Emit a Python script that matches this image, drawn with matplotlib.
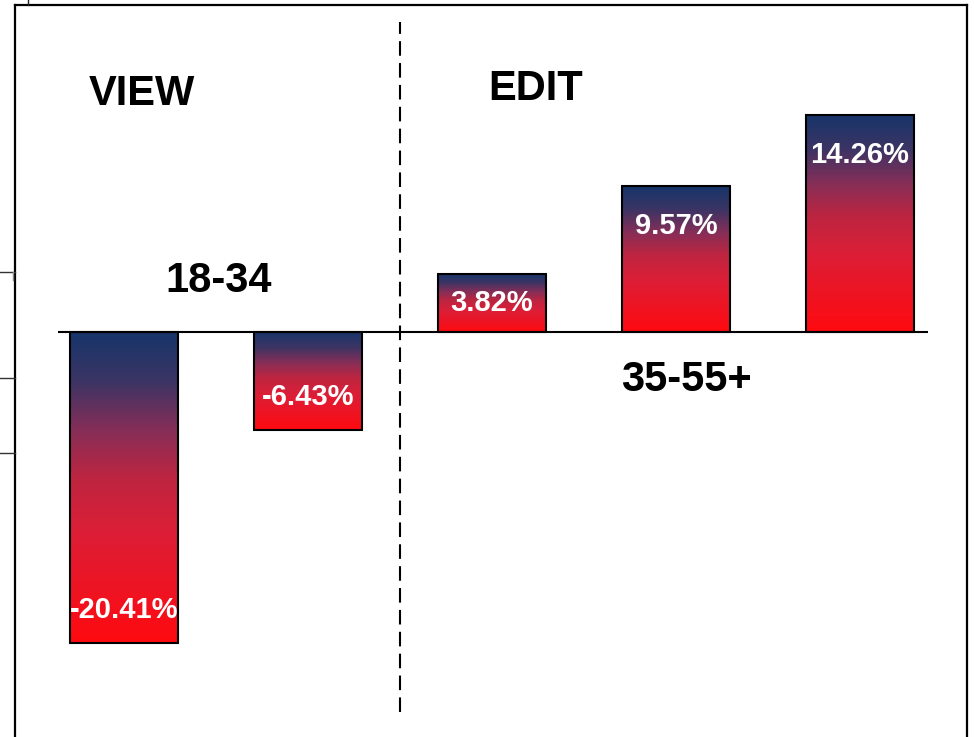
import numpy as np
import matplotlib as mpl
mpl.use('Agg')
from matplotlib import pyplot as plt
from matplotlib.patches import Rectangle
from matplotlib.lines import Line2D
from matplotlib.colors import LinearSegmentedColormap

plt.rcParams['font.family'] = ['Liberation Sans', 'DejaVu Sans']

# data
values = [-20.41, -6.43, 3.82, 9.57, 14.26]
value_labels = ['-20.41%', '-6.43%', '3.82%', '9.57%', '14.26%']
group_labels = ['18-34', '35-55+']
section_labels = ['VIEW', 'EDIT']

# navy -> red gradient used on every bar
grad_cmap = LinearSegmentedColormap.from_list('navy_red', [
    (0.0, '#16356a'),
    (0.16, '#3b3464'),
    (0.32, '#872e57'),
    (0.47, '#bd2540'),
    (0.63, '#da1f38'),
    (1.0, '#ff0a10'),
])

dpi = 100
fig = plt.figure(figsize=(9.75, 7.37), dpi=dpi)

# outer frame (slide chart border), open at the bottom
frame = fig.add_axes([15 / 975, 0.0, 952 / 975, 1 - 5 / 737])
frame.set_xticks([])
frame.set_yticks([])
frame.spines['bottom'].set_visible(False)
for s in ['top', 'left', 'right']:
    frame.spines[s].set_linewidth(1.6)
frame.patch.set_alpha(0)

# little cropped stubs left of the frame
for yp in [272, 378, 453]:
    fig.add_artist(Line2D([0, 15 / 975], [1 - yp / 737] * 2, color='#333333', lw=1.0))
fig.add_artist(Line2D([13 / 975] * 2, [1 - 272 / 737, 1 - 280 / 737], color='#888888', lw=1.0))
fig.add_artist(Line2D([28 / 975] * 2, [1.0, 1 - 5 / 737], color='#222222', lw=1.0))

ax = fig.add_axes([0, 0, 1, 1])
ax.patch.set_alpha(0)
ax.axis('off')

px_per_unit = 15.25
x = np.arange(len(values))
width = 0.587
grad = np.linspace(0, 1, 256).reshape(-1, 1)

for xi, v, lab in zip(x, values, value_labels):
    lo, hi = min(0, v), max(0, v)
    ax.imshow(grad, cmap=grad_cmap, extent=(xi - width / 2, xi + width / 2, lo, hi),
              origin='upper', aspect='auto', interpolation='bilinear', zorder=2)
    ax.add_patch(Rectangle((xi - width / 2, lo), width, hi - lo, fill=False,
                           edgecolor='black', lw=1.5, zorder=3))
    off = min(2.4, 0.43 * abs(v))
    ax.text(xi, v - np.sign(v) * off - 0.25, lab, color='white', fontsize=21,
            fontweight='bold', ha='center', va='center', zorder=4)

# zero line
ax.hlines(0, -0.36, 4.37, color='black', lw=1.5, zorder=5)

# dashed divider between the two sections
ax.vlines(1.5, -380 / px_per_unit, 310 / px_per_unit, color='black', lw=1.5,
          linestyles=(0, (7, 3.5)), zorder=1)

ax.text(0.098, 240 / px_per_unit - 0.1, section_labels[0], fontsize=30, fontweight='bold',
        ha='center', va='center')
ax.text(2.239, 245 / px_per_unit - 0.1, section_labels[1], fontsize=30, fontweight='bold',
        ha='center', va='center')
ax.text(0.516, 53 / px_per_unit - 0.1, group_labels[0], fontsize=30, fontweight='bold',
        ha='center', va='center')
ax.text(3.054, -46 / px_per_unit - 0.1, group_labels[1], fontsize=30, fontweight='bold',
        ha='center', va='center')

ax.set_xlim(-124 / 184, 851 / 184)
ax.set_ylim(-405 / px_per_unit, 332 / px_per_unit)

fig.savefig('out.png', dpi=dpi)
plt.close(fig)
